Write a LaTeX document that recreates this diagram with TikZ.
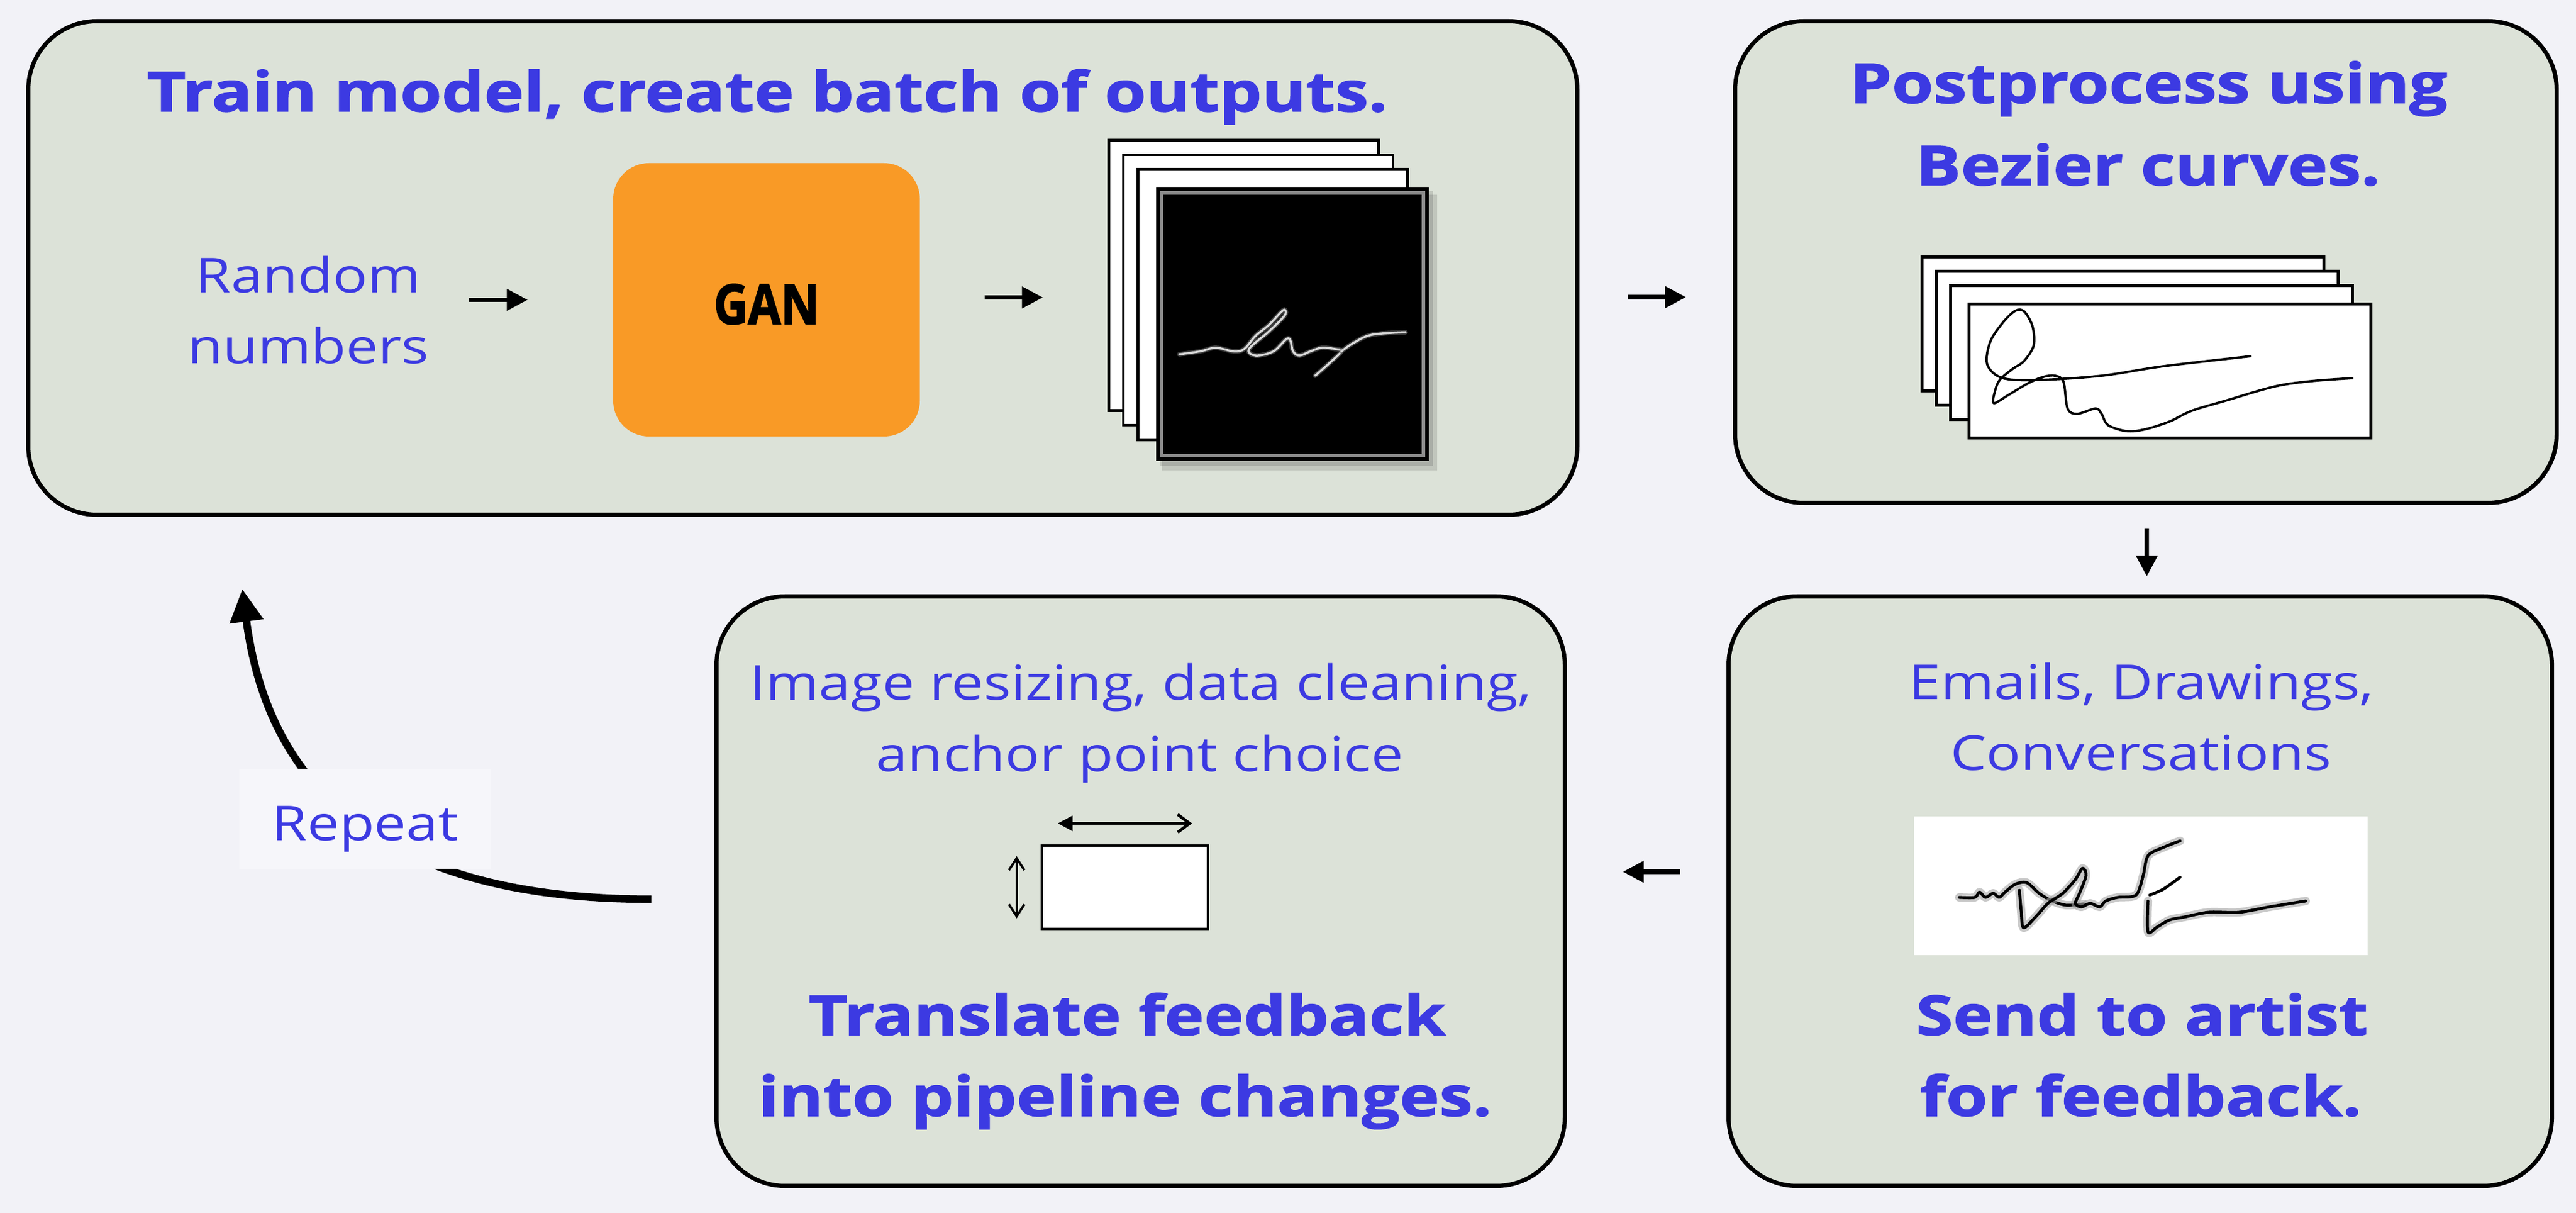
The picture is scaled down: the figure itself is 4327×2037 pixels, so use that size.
\documentclass[tikz,border=0pt]{standalone}
\usepackage{fontspec}
\setmainfont{Open Sans}
\newfontfamily\headfont{Open Sans}[FakeStretch=1.22, BoldFeatures={FakeBold=1.6}]
\newfontfamily\bodyfont{Open Sans}[FakeStretch=1.19]
\newfontfamily\ganfont{Open Sans}[BoldFeatures={FakeBold=2.2}]
\usetikzlibrary{arrows.meta,calc}
\definecolor{pagebg}{HTML}{F2F2F7}
\definecolor{panelfill}{HTML}{DCE2D8}
\definecolor{inkblue}{HTML}{3C3AE2}
\definecolor{ganorange}{HTML}{F99A26}
\definecolor{tagbg}{HTML}{F6F6FA}
\tikzset{
  panel/.style={draw, line width=2pt, fill=panelfill, rounded corners=11.5mm, inner sep=0pt},
  head/.style={text=inkblue, font=\headfont\bfseries\fontsize{26.3}{30}\selectfont, anchor=base, inner sep=0pt},
  body/.style={text=inkblue, font=\bodyfont\fontsize{23}{27}\selectfont, anchor=base, inner sep=0pt},
  flow/.style={line width=2.1pt, -{Triangle[length=3.5mm,width=3.5mm]}},
  sheet/.style={draw, line width=1.4pt, fill=white},
  loopback/.style={line width=3.6pt, -{Triangle[length=5.5mm,width=5.4mm]}},
  tag/.style={fill=tagbg, text=inkblue, font=\bodyfont\fontsize{23}{27}\selectfont, inner sep=0pt},
}
\begin{document}
\begin{tikzpicture}[line cap=butt,line join=miter,x=0.1mm,y=-0.1mm]
                \fill [pagebg] (0,0) rectangle (4327,2037);
                \useasboundingbox (0,0) rectangle (4327,2037);
                \node [panel, minimum width=260.2mm, minimum height=82.9mm] (train) at (1348.5,450) {};
                \node [panel, minimum width=138mm, minimum height=80.9mm] (post) at (3604.5,440) {};
                \node [panel, minimum width=142.5mm, minimum height=99mm] (adapt) at (1916,1496.5) {};
                \node [panel, minimum width=138.3mm, minimum height=99mm] (artist) at (3595,1496.5) {};
                \node [head] (traintitle) at (1289,187) {Train model, create batch of outputs.};
                \node [body] (random1) at (518,492) {Random};
                \node [body] (random2) at (518,611) {numbers};
                \node [fill=ganorange, rounded corners=6mm, minimum width=51.5mm, minimum height=45.9mm, inner sep=0pt, text height=8.1mm, text depth=0pt, font=\ganfont\bfseries\fontsize{26.3}{30}\selectfont] (gan) at (1287.5,503.5) {\scalebox{0.86}[1]{GAN}};
                \draw [flow] ($(gan.west)+(-241,0)$) -- ($(gan.west)+(-143,0)$);
                \draw [flow] ($(gan.east)+(108,-4)$) -- ($(gan.east)+(206,-4)$);
                \foreach \i in {0,1,2}
                    \draw [sheet] ({1862.5+24.5*\i},{235.5+24.5*\i}) rectangle +(453,454);
                \fill [black, opacity=0.12] (1952,327) rectangle (2414,790);
                \fill [black, opacity=0.12] (1948,321) rectangle (2407,782);
                \node [fill=black, draw=black, line width=1.4pt, minimum width=45.3mm, minimum height=45.4mm, inner sep=0pt] (sample) at (2171,544.5) {};
                \draw [black!45, line width=1.7pt] ($(sample.north west)+(9,9)$) rectangle ($(sample.south east)+(-9,-9)$);
                \draw [white!40!black, line width=2.2pt, line join=round, line cap=round, opacity=0.6] plot [smooth, tension=0.6] coordinates {(1981,595) (2016,590) (2042,584) (2072,590) (2090,586) (2109,564) (2131,546) (2153,523) (2159,521) (2157,531) (2131,557) (2098,586) (2109,597) (2139,590) (2164,568) (2172,590) (2183,597) (2201,590) (2220,584) (2242,586) (2253,590) (2235,608) (2209,631)};
                \draw [white!85!black, line width=1pt, line join=round, line cap=round] plot [smooth, tension=0.6] coordinates {(1981,595) (2016,590) (2042,584) (2072,590) (2090,586) (2109,564) (2131,546) (2153,523) (2159,521) (2157,531) (2131,557) (2098,586) (2109,597) (2139,590) (2164,568) (2172,590) (2183,597) (2201,590) (2220,584) (2242,586) (2253,590) (2235,608) (2209,631)};
                \draw [white!40!black, line width=2.2pt, line join=round, line cap=round, opacity=0.6] plot [smooth, tension=0.6] coordinates {(2253,590) (2275,575) (2305,562) (2361,558)};
                \draw [white!85!black, line width=1pt, line join=round, line cap=round] plot [smooth, tension=0.6] coordinates {(2253,590) (2275,575) (2305,562) (2361,558)};
                \node [head] (post1) at (3609,173) {Postprocess using};
                \node [head] (post2) at (3608,311) {Bezier curves.};
                \foreach \i in {0,1,2}
                    \draw [sheet] ({3228.5+24*\i},{431.5+24*\i}) rectangle +(675,225);
                \node [sheet, minimum width=67.5mm, minimum height=22.5mm, inner sep=0pt] (fitted) at (3645,623) {};
                \draw [line width=1.1pt, line join=round] plot [smooth, tension=0.55] coordinates {(3782,598) (3634,615) (3530,631) (3426,638) (3364,635) (3338,612) (3343,574) (3364,542) (3385,522) (3400,523) (3414,548) (3416,580) (3400,606) (3380,620) (3359,638) (3351,657) (3349,677) (3374,663) (3406,644) (3432,633) (3452,631) (3466,641) (3473,686) (3489,695) (3520,686) (3530,695) (3541,714) (3572,724) (3603,721) (3644,708) (3681,690) (3738,673) (3821,649) (3883,640) (3953,635)};
                \draw [flow] ($(train.east)+(81,49)$) -- ($(post.west)+(-79,59)$);
                \draw [flow] ($(post.south)+(1.5,40)$) -- ($(artist.north)+(11,-30)$);
                \node [body] (artist1) at (3597,1174) {Emails, Drawings,};
                \node [body] (artist2) at (3596,1293) {Conversations};
                \node [fill=white, minimum width=76.2mm, minimum height=23.3mm, inner sep=0pt] (scan) at (3596,1487.5) {};
                \draw [black!35, line width=4pt, line join=round, line cap=round, opacity=0.6] plot [smooth, tension=0.5] coordinates {(3291,1507) (3317,1507) (3325,1498) (3335,1507) (3348,1500) (3358,1507) (3368,1498) (3385,1485) (3404,1482) (3425,1500) (3445,1512) (3470,1520) (3500,1518)};
                \draw [black, line width=1.4pt, line join=round, line cap=round] plot [smooth, tension=0.5] coordinates {(3291,1507) (3317,1507) (3325,1498) (3335,1507) (3348,1500) (3358,1507) (3368,1498) (3385,1485) (3404,1482) (3425,1500) (3445,1512) (3470,1520) (3500,1518)};
                \draw [black!35, line width=4pt, line join=round, line cap=round, opacity=0.6] plot [smooth, tension=0.5] coordinates {(3392,1495) (3395,1530) (3399,1558) (3419,1540) (3440,1517) (3465,1500) (3486,1477) (3498,1458) (3504,1470) (3493,1500) (3486,1517) (3496,1523) (3511,1517) (3527,1523) (3537,1513) (3557,1507) (3588,1503) (3600,1470) (3608,1437) (3634,1423) (3662,1412)};
                \draw [black, line width=1.4pt, line join=round, line cap=round] plot [smooth, tension=0.5] coordinates {(3392,1495) (3395,1530) (3399,1558) (3419,1540) (3440,1517) (3465,1500) (3486,1477) (3498,1458) (3504,1470) (3493,1500) (3486,1517) (3496,1523) (3511,1517) (3527,1523) (3537,1513) (3557,1507) (3588,1503) (3600,1470) (3608,1437) (3634,1423) (3662,1412)};
                \draw [black, line width=1.4pt, line cap=round] plot [smooth] coordinates {(3611,1503) (3634,1493) (3662,1473)};
                \draw [black!35, line width=4pt, line join=round, line cap=round, opacity=0.6] plot [smooth, tension=0.5] coordinates {(3608,1513) (3608,1565) (3623,1557) (3644,1545) (3669,1540) (3710,1532) (3761,1532) (3812,1523) (3873,1513)};
                \draw [black, line width=1.4pt, line join=round, line cap=round] plot [smooth, tension=0.5] coordinates {(3608,1513) (3608,1565) (3623,1557) (3644,1545) (3669,1540) (3710,1532) (3761,1532) (3812,1523) (3873,1513)};
                \node [head] (artist3) at (3598,1738) {Send to artist};
                \node [head] (artist4) at (3596,1874) {for feedback.};
                \draw [flow] ($(artist.west)+(-78,-32.5)$) -- ($(adapt.east)+(94,-32.5)$);
                \node [body] (adapt1) at (1916.5,1175) {Image resizing, data cleaning,};
                \node [body] (adapt2) at (1914.5,1295) {anchor point choice};
                \node [sheet, line width=1.3pt, minimum width=27.9mm, minimum height=14mm] (frame) at (1889.5,1490) {};
                \draw [line width=1.4pt, {Triangle[length=2.5mm,width=2.5mm]}-{Straight Barb[length=2mm,width=3mm]}] ($(frame.north west)+(29,-35)$) -- ($(frame.north east)+(-29,-35)$);
                \draw [line width=1.1pt, {Straight Barb[length=2mm,width=2.6mm]}-{Straight Barb[length=2mm,width=2.6mm]}] ($(frame.north west)+(-40,20)$) -- ($(frame.south west)+(-40,-20)$);
                \node [head] (adapt3) at (1893,1738) {Translate feedback};
                \node [head] (adapt4) at (1890,1874) {into pipeline changes.};
                \coordinate (loopstart) at ($(adapt.west)+(-106,13.5)$);
                \coordinate (loopend) at ($(train.south west)+(363,121)$);
                \draw [loopback] (loopstart) .. controls +(-455,0) and +(43,331) .. (loopend);
                \node [tag, minimum width=42.3mm, minimum height=16.8mm, text height=7.2mm, text depth=0pt] (repeat) at (613.5,1375) {Repeat};
\end{tikzpicture}
\end{document}
